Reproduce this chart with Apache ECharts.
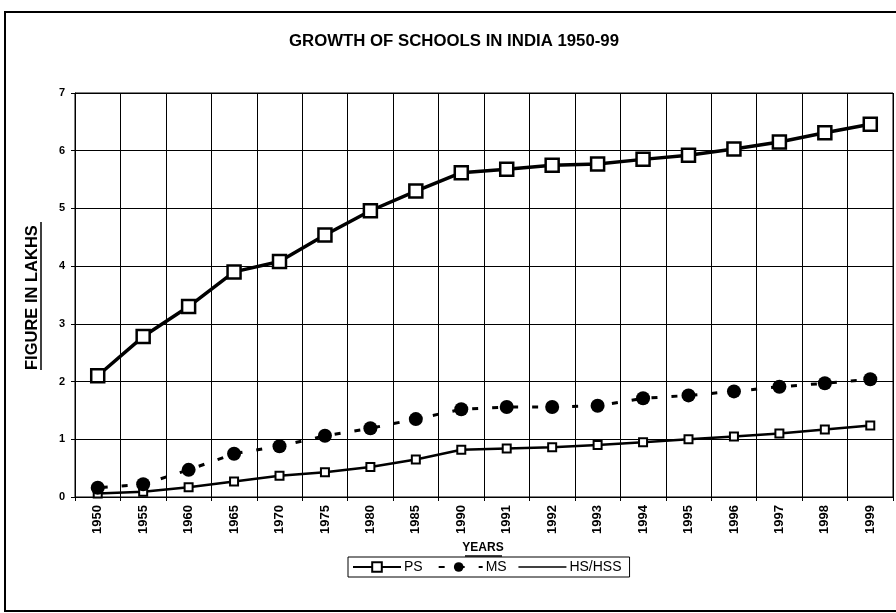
<!DOCTYPE html>
<html><head><meta charset="utf-8">
<script src="https://cdn.jsdelivr.net/npm/echarts@6/dist/echarts.min.js"></script>
<style>html,body{margin:0;padding:0;background:#fff}#c{width:896px;height:613px}</style>
</head><body><div id="c"></div>
<script>
const years = ['1950','1955','1960','1965','1970','1975','1980','1985','1990','1991','1992','1993','1994','1995','1996','1997','1998','1999'];
const ps = [2.10, 2.78, 3.30, 3.90, 4.08, 4.54, 4.96, 5.30, 5.62, 5.68, 5.75, 5.77, 5.85, 5.92, 6.03, 6.15, 6.31, 6.46];
const ms = [0.16, 0.22, 0.47, 0.75, 0.88, 1.06, 1.19, 1.35, 1.52, 1.56, 1.56, 1.58, 1.71, 1.76, 1.83, 1.91, 1.97, 2.04];
const hs = [0.06, 0.09, 0.17, 0.27, 0.37, 0.43, 0.52, 0.65, 0.82, 0.84, 0.86, 0.90, 0.95, 1.00, 1.05, 1.10, 1.17, 1.24];
const yTicks = [0, 1, 2, 3, 4, 5, 6, 7];

const chart = echarts.init(document.getElementById('c'));
const font = '"Liberation Sans", Arial, sans-serif';
chart.setOption({
  animation: false,
  backgroundColor: '#fff',
  textStyle: { fontFamily: font, color: '#000' },
  graphic: [
    { type: 'rect', shape: { x: 5, y: 12, width: 900, height: 599 }, style: { fill: 'none', stroke: '#000', lineWidth: 2 }, silent: true },
    { type: 'text', x: 454, y: 33, style: { text: 'GROWTH OF SCHOOLS IN INDIA 1950-99', font: 'bold 16.8px ' + font, fill: '#000', textAlign: 'center' } },
    { type: 'text', x: 24, y: 370, rotation: Math.PI / 2,
      style: { text: 'FIGURE IN LAKHS', font: 'bold 16.5px ' + font, fill: '#000', textVerticalAlign: 'top' } },
    { type: 'line', shape: { x1: 41, y1: 222, x2: 41, y2: 370 }, style: { stroke: '#000', lineWidth: 1.5 } },
    { type: 'text', x: 483, y: 542, style: { text: 'YEARS', font: 'bold 12px ' + font, fill: '#000', textAlign: 'center' } },
    { type: 'line', shape: { x1: 465, y1: 556, x2: 502, y2: 556 }, style: { stroke: '#000', lineWidth: 1.5 } }
  ],
  grid: { left: 75, right: 3, top: 93, bottom: 116, show: true, borderColor: '#000', borderWidth: 1 },
  xAxis: {
    type: 'category', data: years, boundaryGap: true,
    axisLine: { lineStyle: { color: '#000', width: 1 } },
    axisTick: { show: true, alignWithLabel: false, length: 4, lineStyle: { color: '#000' } },
    splitLine: { show: true, lineStyle: { color: '#000', width: 1 } },
    axisLabel: { rotate: 90, fontSize: 13, fontWeight: 'bold', color: '#000', margin: 8, fontFamily: font }
  },
  yAxis: {
    type: 'value', min: 0, max: 7, interval: 1,
    axisLine: { show: true, lineStyle: { color: '#000' } },
    axisTick: { show: true, length: 4, lineStyle: { color: '#000' } },
    splitLine: { show: true, lineStyle: { color: '#000', width: 1 } },
    axisLabel: { fontSize: 11, fontWeight: 'bold', color: '#000', margin: 10,
      formatter: v => yTicks.includes(v) ? String(v) : '', fontFamily: font }
  },
  legend: {
    left: 348, top: 557, itemGap: 11, itemWidth: 48, itemHeight: 12,
    borderColor: '#000', borderWidth: 1, padding: [3, 8, 3, 4],
    textStyle: { fontSize: 14, color: '#000', fontFamily: font, padding: [0, 0, 0, -2] },
    data: [
      { name: 'PS' },
      { name: 'MS' },
      { name: 'HS/HSS', itemStyle: { color: 'rgba(0,0,0,0)', borderWidth: 0 }, lineStyle: { width: 1.5 } }
    ]
  },
  series: [
    {
      name: 'PS', type: 'line', data: ps, z: 5,
      symbol: 'rect', symbolSize: 13,
      lineStyle: { color: '#000', width: 3.5 },
      itemStyle: { color: '#fff', borderColor: '#000', borderWidth: 2.5 }
    },
    {
      name: 'MS', type: 'line', data: ms, z: 4,
      symbol: 'circle', symbolSize: 14,
      lineStyle: { color: '#000', width: 3, type: [6, 14], dashOffset: -4 },
      itemStyle: { color: '#000', borderColor: '#000', borderWidth: 0 }
    },
    {
      name: 'HS/HSS', type: 'line', data: hs, z: 3,
      symbol: 'rect', symbolSize: 8,
      lineStyle: { color: '#000', width: 2.5 },
      itemStyle: { color: '#fff', borderColor: '#000', borderWidth: 2 }
    }
  ]
});
</script></body></html>
